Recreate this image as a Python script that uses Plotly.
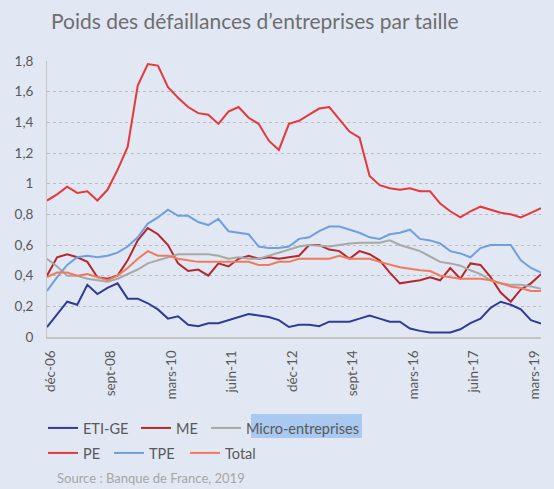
import plotly.graph_objects as go

# Period index (months since déc-06), sampled every 3 periods
period = list(range(0, 148, 3))
tick_pos = [1, 19, 37, 55, 73, 91, 109, 127, 145]
tick_labels = ["déc-06", "sept-08", "mars-10", "juin-11", "déc-12",
               "sept-14", "mars-16", "juin-17", "mars-19"]

eti_ge = [0.065, 0.15, 0.23, 0.21, 0.34, 0.28, 0.32, 0.35, 0.25, 0.25, 0.22, 0.18, 0.12,
          0.135, 0.08, 0.07, 0.09, 0.09, 0.11, 0.13, 0.15, 0.14, 0.13, 0.11, 0.065,
          0.08, 0.08, 0.07, 0.10, 0.10, 0.10, 0.12, 0.14, 0.12, 0.10, 0.10, 0.055,
          0.04, 0.03, 0.03, 0.03, 0.05, 0.09, 0.12, 0.19, 0.23, 0.21, 0.18, 0.11, 0.087]
me = [0.40, 0.52, 0.54, 0.52, 0.49, 0.39, 0.38, 0.40, 0.50, 0.63, 0.71, 0.67, 0.60,
      0.48, 0.43, 0.44, 0.40, 0.48, 0.46, 0.51, 0.53, 0.51, 0.52, 0.51, 0.52,
      0.53, 0.60, 0.60, 0.57, 0.56, 0.51, 0.56, 0.54, 0.50, 0.42, 0.35, 0.36,
      0.37, 0.39, 0.37, 0.45, 0.38, 0.48, 0.47, 0.39, 0.29, 0.23, 0.31, 0.35, 0.41]
micro = [0.51, 0.46, 0.40, 0.40, 0.38, 0.37, 0.36, 0.38, 0.41, 0.44, 0.48, 0.50, 0.52,
         0.54, 0.54, 0.54, 0.54, 0.53, 0.51, 0.52, 0.51, 0.51, 0.53, 0.55, 0.57,
         0.59, 0.60, 0.595, 0.59, 0.60, 0.61, 0.615, 0.615, 0.615, 0.63, 0.60, 0.58,
         0.56, 0.525, 0.49, 0.48, 0.465, 0.435, 0.41, 0.37, 0.35, 0.34, 0.34, 0.33, 0.315]
pe = [0.89, 0.93, 0.98, 0.94, 0.95, 0.89, 0.96, 1.09, 1.24, 1.64, 1.78, 1.77, 1.63,
      1.56, 1.50, 1.46, 1.45, 1.39, 1.47, 1.50, 1.43, 1.39, 1.28, 1.22, 1.39,
      1.41, 1.45, 1.49, 1.50, 1.42, 1.34, 1.30, 1.05, 0.99, 0.97, 0.96, 0.97,
      0.95, 0.95, 0.87, 0.82, 0.78, 0.82, 0.85, 0.83, 0.81, 0.80, 0.78, 0.81, 0.84]
tpe = [0.30, 0.39, 0.47, 0.52, 0.53, 0.52, 0.53, 0.55, 0.59, 0.65, 0.74, 0.78, 0.83,
       0.79, 0.79, 0.75, 0.73, 0.77, 0.69, 0.68, 0.67, 0.59, 0.58, 0.58, 0.59,
       0.64, 0.65, 0.69, 0.72, 0.72, 0.70, 0.68, 0.65, 0.64, 0.67, 0.68, 0.70,
       0.64, 0.63, 0.61, 0.56, 0.545, 0.52, 0.58, 0.60, 0.60, 0.60, 0.50, 0.45, 0.42]
total = [0.39, 0.42, 0.42, 0.40, 0.41, 0.39, 0.37, 0.40, 0.45, 0.51, 0.56, 0.53, 0.53,
         0.51, 0.50, 0.49, 0.49, 0.49, 0.49, 0.49, 0.49, 0.47, 0.47, 0.49, 0.49,
         0.51, 0.51, 0.51, 0.51, 0.53, 0.51, 0.51, 0.51, 0.49, 0.47, 0.455, 0.445,
         0.435, 0.43, 0.40, 0.39, 0.38, 0.38, 0.38, 0.37, 0.35, 0.33, 0.32, 0.30, 0.30]

BG = "#e2e7f4"
FONT = "Lato"
W, H = 554, 489
l, r, t, b = 47, 13, 61, 152
ph = H - t - b
pw = W - l - r


def px_x(p):
    return (p - l) / pw


def px_y(p):
    return (H - b - p) / ph


# name, values, colour, legend id, legend text x (px), legend row top (px)
series = [
    ("ETI-GE", eti_ge, "#2f3c96", "legend", 89, 412),
    ("ME", me, "#b3282c", "legend2", 182, 412),
    ("Micro-entreprises", micro, "#a8a8a8", "legend3", 252, 412),
    ("PE", pe, "#e5383a", "legend4", 89, 437),
    ("TPE", tpe, "#6f9fdc", "legend5", 155, 437),
    ("Total", total, "#f07b5c", "legend6", 231, 437),
]

fig = go.Figure()
legends = {}
for name, vals, col, leg, tx, ty in series:
    fig.add_trace(go.Scatter(x=period, y=vals, name=name, mode="lines",
                             line=dict(color=col, width=2), legend=leg))
    legends[leg] = dict(orientation="h", x=px_x(tx - 46), y=px_y(ty),
                        xanchor="left", yanchor="top", bgcolor="rgba(0,0,0,0)",
                        font=dict(size=14.5, color="#595959"))

fig.add_shape(type="rect", xref="paper", yref="paper",
              x0=px_x(251), x1=px_x(362), y0=px_y(438), y1=px_y(414),
              fillcolor="#a9c9f0", line=dict(width=0), layer="below")

fig.update_layout(
    width=W, height=H,
    margin=dict(l=l, r=r, t=t, b=b, autoexpand=False),
    paper_bgcolor=BG, plot_bgcolor=BG,
    separators=", ",
    font=dict(family=FONT, color="#595959", size=13),
    title=dict(text="Poids des défaillances d’entreprises par taille",
               xref="container", yref="container", x=51 / W, xanchor="left",
               y=1 - 22 / H, yanchor="middle",
               font=dict(family="Lato", size=21, color="#6e6e6e")),
    xaxis=dict(range=[0, 147], tickmode="array", tickvals=tick_pos, ticktext=tick_labels,
               tickangle=-90, showgrid=False, zeroline=False,
               showline=True, linecolor="#c4c4c4", linewidth=2, automargin=False,
               ticks="", ticklabelstandoff=6, tickfont=dict(size=13.5, color="#595959")),
    yaxis=dict(range=[0, 1.8], dtick=0.2, tick0=0, showgrid=True, gridcolor="#bcbcbc",
               griddash="dot", gridwidth=1, zeroline=False, automargin=False,
               showline=True, linecolor="#c4c4c4", linewidth=1,
               ticks="", ticklabelstandoff=10, tickfont=dict(size=13.5, color="#595959")),
    showlegend=True,
    **legends,
)
fig.add_annotation(text="Source : Banque de France, 2019", xref="paper", yref="paper",
                   x=px_x(55), y=px_y(478), xanchor="left", yanchor="middle",
                   showarrow=False, font=dict(size=13, color="#a6a6a6"))

fig.write_html("out.html",
               config={"displayModeBar": False},
               post_script="document.body.style.margin='0';"
                           "document.body.style.background='" + BG + "';")
